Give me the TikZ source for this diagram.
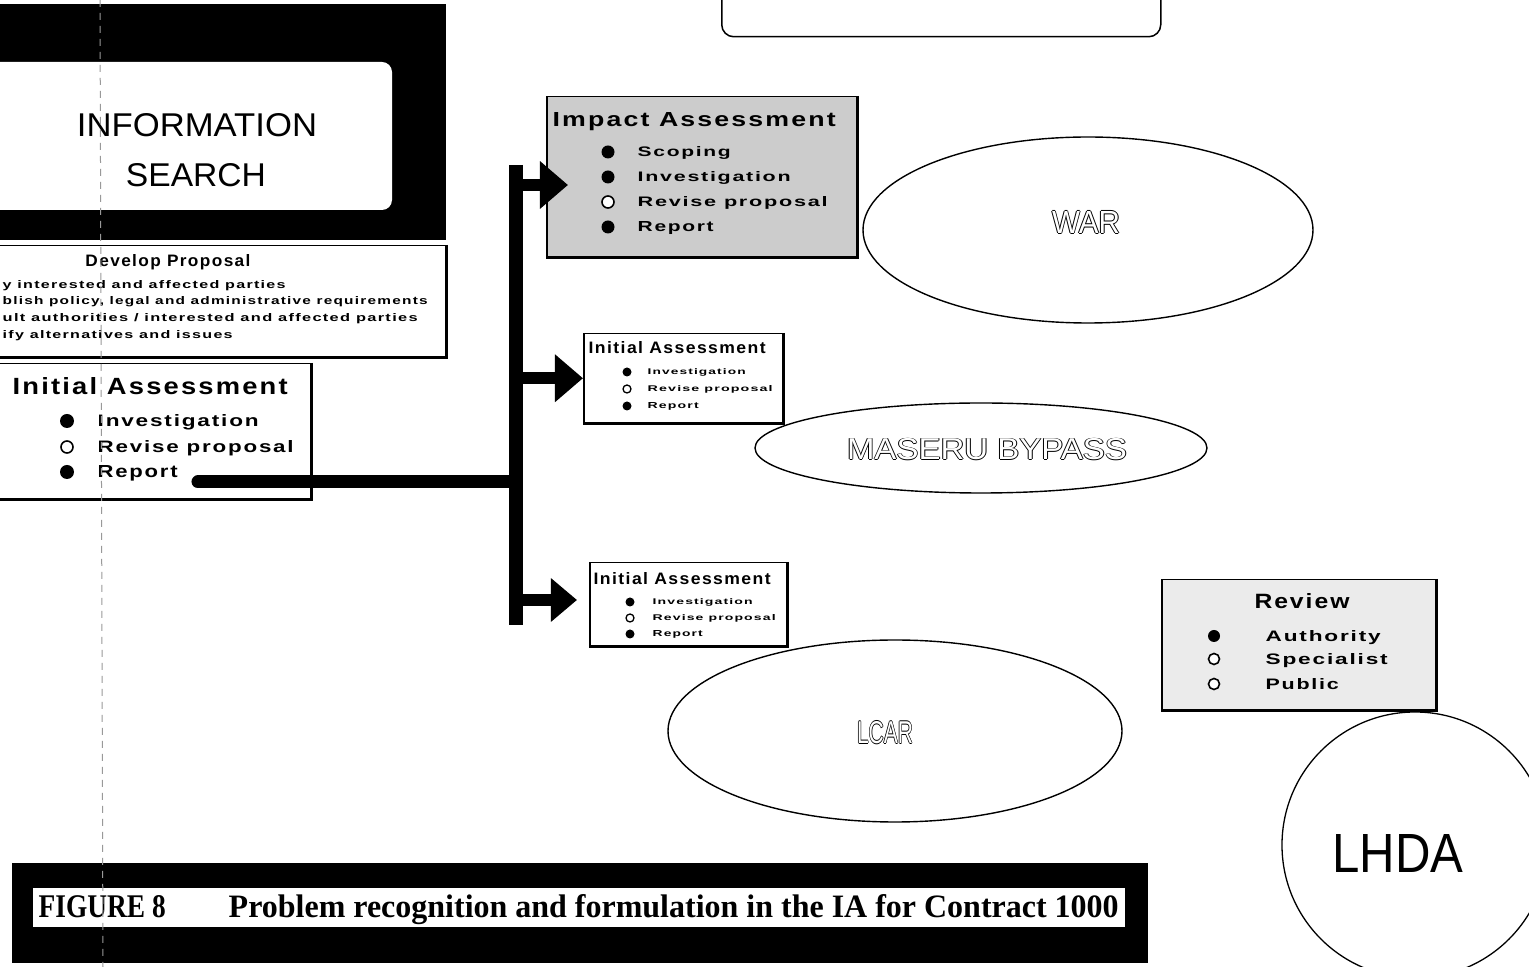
\documentclass[tikz,border=0pt]{standalone}
\usepackage{fontspec}
\usepackage{graphicx}
\setmainfont{Liberation Sans}
\newfontfamily\boxfont[LetterSpace=8]{Liberation Sans}
\newfontfamily\capfont{Liberation Serif}
\usetikzlibrary{shapes.geometric,arrows.meta}
% one drawing unit = one pixel of the 1529 x 967 sheet
\newlength\pxu \setlength\pxu{0.01cm}
\newlength\olw \setlength\olw{0.3pt}
% text squeezed into a given width and cap height (in pixels)
\newcommand\bt[3]{\resizebox{#1\pxu}{#2\pxu}{\boxfont\bfseries #3}}
\newcommand\rt[3]{\resizebox{#1\pxu}{#2\pxu}{#3}}
\newcommand\outl[1]{\leavevmode\rlap{\kern-\olw#1}\rlap{\kern\olw#1}\rlap{\raisebox{\olw}{#1}}\rlap{\raisebox{-\olw}{#1}}\textcolor{white}{#1}}
\newcommand\ot[3]{\resizebox{#1\pxu}{#2\pxu}{\outl{#3}}}
\newcommand\cpt[3]{\resizebox{#1\pxu}{#2\pxu}{\capfont\bfseries #3}}
\tikzset{
  txt/.style={inner sep=0pt, anchor=base west},
  ctxt/.style={inner sep=0pt, anchor=base},
  pbox/.style={draw, line width=1.5\pxu, fill=white, inner sep=0pt, anchor=north west},
  bar/.style={line width=0.13cm},
  feed/.style={line width=0.13cm, line cap=round},
  branch/.style={line width=0.12cm, -{Triangle[length=0.28cm, width=0.46cm]}},
  oval/.style={ellipse, draw, line width=1.4\pxu, inner sep=0pt, fill=white},
  dotfull/.style={fill=black},
  dotopen/.style={draw=black, line width=1.6\pxu, fill=white},
}
\newcommand\boxshadow[1]{\draw[line width=3\pxu] (#1.north east) -- (#1.south east) -- (#1.south west);}
\begin{document}
\begin{tikzpicture}[x=0.01cm, y=-0.01cm]
\useasboundingbox (0,0) rectangle (1529,967);
\clip (0,0) rectangle (1529,967);
\fill[white] (0,0) rectangle (1529,967);

% information search banner
\fill (-5,4) rectangle (446,240);
\fill[white, rounded corners=10\pxu] (-20,62) rectangle (392,210);
\node[ctxt] (info1) at (197,136.5) {\rt{240}{23}{INFORMATION}};
\node[ctxt] (info2) at (196,186.5) {\rt{140}{23}{SEARCH}};

% develop proposal
\node[pbox, minimum width=450\pxu, minimum height=111\pxu] (dev) at (-5,245) {};
\boxshadow{dev}
\node[ctxt] (devt) at (168,267) {\bt{165}{12}{Develop Proposal}};
\node[txt] (dev1) at (2,289) {\bt{283}{8}{y interested and affected parties}};
\node[txt] (dev2) at (2,305) {\bt{425}{8}{blish policy, legal and administrative requirements}};
\node[txt] (dev3) at (2,322) {\bt{415}{8}{ult authorities / interested and affected parties}};
\node[txt] (dev4) at (2,339) {\bt{230}{8}{ify alternatives and issues}};

% initial assessment (left)
\node[pbox, minimum width=315\pxu, minimum height=135\pxu] (ia0) at (-5,363) {};
\boxshadow{ia0}
\node[txt] (ia0t) at (12,394.5) {\bt{275}{17}{Initial Assessment}};
\fill[dotfull] (67,421) circle[radius=7\pxu];
\draw[dotopen] (67,447) circle[radius=6\pxu];
\fill[dotfull] (67,472) circle[radius=7\pxu];
\node[txt] (ia0a) at (97,427) {\bt{161}{12}{Investigation}};
\node[txt] (ia0b) at (97,453) {\bt{196}{12}{Revise proposal}};
\node[txt] (ia0c) at (97,478) {\bt{80}{12}{Report}};

% top box
\node[draw, line width=1.5\pxu, rounded corners=12\pxu, inner sep=0pt, anchor=north west,
      minimum width=439\pxu, minimum height=66\pxu] (topbox) at (721,-30) {};

% project ovals
\node[oval, minimum width=450\pxu, minimum height=186\pxu] (war) at (1088,230) {};
\node[ctxt] (wart) at (1086,233.5) {\ot{68}{23}{WAR}};
\node[oval, minimum width=452\pxu, minimum height=90\pxu] (maseru) at (981,448) {};
\node[ctxt] (masert) at (987,460) {\ot{280}{22}{MASERU BYPASS}};
\node[oval, minimum width=454\pxu, minimum height=182\pxu] (lcar) at (895,731) {};
\node[ctxt] (lcart) at (885,743.5) {\ot{56}{23}{LCAR}};
\draw[line width=1.3\pxu] (1415,845) circle[radius=133\pxu];
\node[ctxt] (lhda) at (1398,873) {\rt{131}{38}{LHDA}};

% impact assessment
\node[pbox, fill=black!20, minimum width=310\pxu, minimum height=160\pxu] (impact) at (546,96) {};
\boxshadow{impact}
\node[txt] (impt) at (552,127) {\bt{283}{14}{Impact Assessment}};
\fill[dotfull] (608,152) circle[radius=6.5\pxu];
\fill[dotfull] (608,177) circle[radius=6.5\pxu];
\draw[dotopen] (608,202) circle[radius=6\pxu];
\fill[dotfull] (608,227) circle[radius=6.5\pxu];
\node[txt] (impa) at (637,157) {\bt{93}{10}{Scoping}};
\node[txt] (impb) at (637,182) {\bt{153}{10}{Investigation}};
\node[txt] (impc) at (637,207) {\bt{190}{10}{Revise proposal}};
\node[txt] (impd) at (637,232) {\bt{76}{10}{Report}};

% initial assessment (middle)
\node[pbox, minimum width=199\pxu, minimum height=89\pxu] (mid) at (583,333) {};
\boxshadow{mid}
\node[txt] (midt) at (588,354) {\bt{177}{12}{Initial Assessment}};
\fill[dotfull] (627,372) circle[radius=4.5\pxu];
\draw[dotopen, line width=1.3\pxu] (627,389) circle[radius=4\pxu];
\fill[dotfull] (627,406) circle[radius=4.5\pxu];
\node[txt] (mida) at (647,375) {\bt{98}{6}{Investigation}};
\node[txt] (midb) at (647,392) {\bt{125}{6}{Revise proposal}};
\node[txt] (midc) at (647,409) {\bt{51}{6}{Report}};

% initial assessment (lower)
\node[pbox, minimum width=197\pxu, minimum height=83\pxu] (low) at (589,562) {};
\boxshadow{low}
\node[txt] (lowt) at (593,585) {\bt{177}{12}{Initial Assessment}};
\fill[dotfull] (630,602) circle[radius=4.5\pxu];
\draw[dotopen, line width=1.3\pxu] (630,618) circle[radius=4\pxu];
\fill[dotfull] (630,634) circle[radius=4.5\pxu];
\node[txt] (lowa) at (652,605) {\bt{100}{6}{Investigation}};
\node[txt] (lowb) at (652,621) {\bt{123}{6}{Revise proposal}};
\node[txt] (lowc) at (652,637) {\bt{50}{6}{Report}};

% review
\node[pbox, fill=black!8, minimum width=274\pxu, minimum height=130\pxu] (review) at (1161,579) {};
\boxshadow{review}
\node[ctxt] (revt) at (1302,608.5) {\bt{95}{15}{Review}};
\fill[dotfull] (1214,636) circle[radius=6\pxu];
\draw[dotopen] (1214,659) circle[radius=5.5\pxu];
\draw[dotopen] (1214,684) circle[radius=5.5\pxu];
\node[txt] (reva) at (1265,641.5) {\bt{115}{11}{Authority}};
\node[txt] (revb) at (1265,664.5) {\bt{122}{11}{Specialist}};
\node[txt] (revc) at (1265,689.5) {\bt{73}{11}{Public}};

% distribution bar with branch arrows
\coordinate (src) at (198,482);
\coordinate (jh) at (516,482);
\coordinate (btop) at (516,165);
\coordinate (bbot) at (516,625);
\coordinate (j1) at (516,185);
\coordinate (t1) at (568,185);
\coordinate (j3) at (516,600);
\coordinate (t3) at (577,600);
\draw[feed] (src) -- (jh);
\draw[bar] (btop) -- (bbot);
\draw[branch] (j1) -- (t1);
\draw[branch] (btop |- mid.west) -- (mid.west);
\draw[branch, -{Triangle[length=0.26cm, width=0.42cm]}] (j3) -- (t3);

% caption
\fill (12,863) rectangle (1148,963);
\fill[white] (33,888) rectangle (1125,927);
\node[txt] (figno) at (38,918) {\cpt{127}{22}{FIGURE 8}};
\node[txt] (figcap) at (228,918) {\cpt{890}{23}{Problem recognition and formulation in the IA for Contract 1000}};

% fold line
\draw[black!40, line width=1\pxu, dash pattern=on 7\pxu off 6\pxu] (100,0) -- (103,967);
\end{tikzpicture}
\end{document}
